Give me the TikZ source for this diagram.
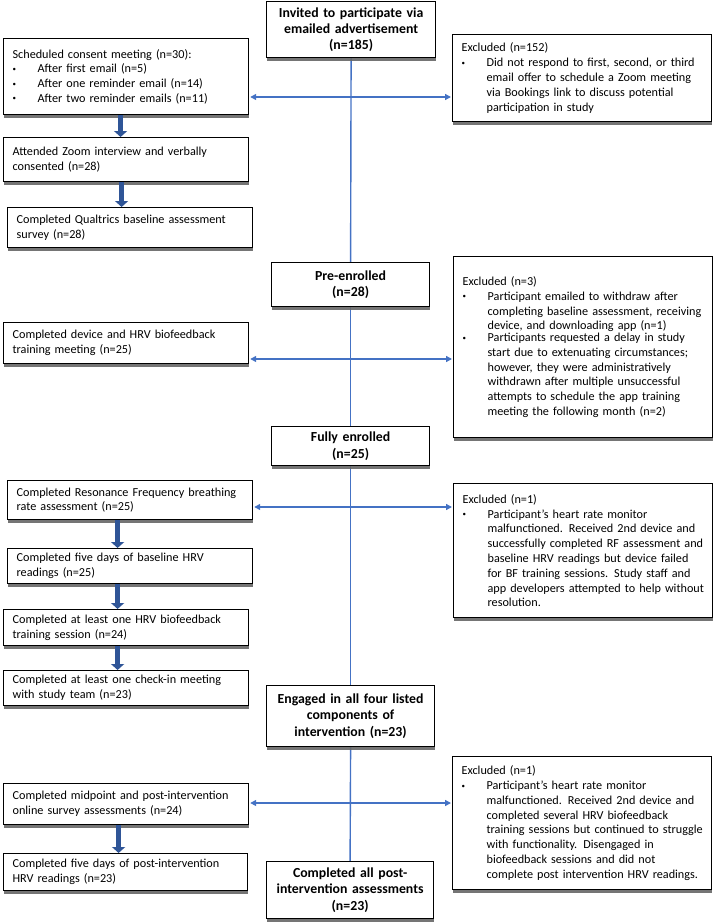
\documentclass[tikz,border=0pt]{standalone}
\usepackage{fontspec}
\setmainfont{Carlito}
\usepackage{xcolor}
\usepackage{tikz}
\usetikzlibrary{arrows.meta}
\usetikzlibrary{shadows, backgrounds}

\definecolor{flowblue}{HTML}{4472C4}
\definecolor{stepblue}{HTML}{2F5597}
\newcommand{\bul}[2][226pt]{\par\noindent\makebox[25pt][l]{\raisebox{1.5pt}{\fontsize{7}{7}\selectfont\textbullet}}\parbox[t]{#1}{\raggedright#2}}

\begin{document}
\begin{tikzpicture}[x=1pt, y=-1pt,
		box/.style={
			draw,
			line width=1.2pt,
			fill=white,
			anchor=north west,
			align=left,
			inner xsep=9pt,
			inner ysep=2pt,
			drop shadow={shadow xshift=0.8pt, shadow yshift=-3pt, fill=black!60, opacity=0.9},
			font=\fontsize{12.2}{14.8}\selectfont,
		},
		leftbox/.style={box, text width=227pt},
		exclbox/.style={box, text width=241pt},
		mainbox/.style={box, align=center, inner xsep=4pt, font=\bfseries\fontsize{13.8}{16.3}\selectfont},
		flow/.style={draw=flowblue, line width=1.4pt},
		flowarrow/.style={flow, shorten >=1pt, -{Triangle[width=6pt,length=6pt]}},
		steparrow/.style={draw=stepblue, line width=5pt, -{Triangle[width=13pt,length=6pt]}}]
	\useasboundingbox (0,0) rectangle (713,924);

	% main column
	\node[mainbox, text width=161pt, minimum height=56pt] (invited) at (266,1) {Invited to participate via\\emailed advertisement\\(n=185)};
	\node[mainbox, text width=150pt, minimum height=44pt] (preenrol) at (271,262) {Pre-enrolled\\(n=28)};
	\node[mainbox, text width=150pt, minimum height=39pt] (fullenrol) at (271,426) {Fully enrolled\\(n=25)};
	\node[mainbox, text width=160pt, minimum height=61pt] (engaged) at (266,685) {Engaged in all four listed\\components of\\intervention (n=23)};
	\node[mainbox, text width=159pt, minimum height=57pt] (postdone) at (266,861) {Completed all post-\\intervention assessments\\(n=23)};

	% left column
	\node[leftbox, minimum height=76pt] (sched) at (3,38) {Scheduled consent meeting (n=30):
		\bul[195pt]{After first email (n=5)}
		\bul[195pt]{After one reminder email (n=14)}
		\bul[195pt]{After two reminder emails (n=11)}};
	\node[leftbox, minimum height=44pt] (consent) at (3,137) {Attended Zoom interview and verbally\newline consented (n=28)};
	\node[leftbox, minimum height=40pt] (qualtrics) at (7,207) {Completed Qualtrics baseline assessment\newline survey (n=28)};
	\node[leftbox, minimum height=41pt] (device) at (3,322) {Completed device and HRV biofeedback\newline training meeting (n=25)};
	\node[leftbox, minimum height=39pt] (resfreq) at (7,480) {Completed Resonance Frequency breathing\newline rate assessment (n=25)};
	\node[leftbox, minimum height=35pt] (basehrv) at (7,548) {Completed five days of baseline HRV\newline readings (n=25)};
	\node[leftbox, minimum height=36pt] (training) at (3,609) {Completed at least one HRV biofeedback\newline training session (n=24)};
	\node[leftbox, minimum height=35pt] (checkin) at (3,670) {Completed at least one check-in meeting\newline with study team (n=23)};
	\node[leftbox, minimum height=41pt] (survey) at (3,783) {Completed midpoint and post-intervention\newline online survey assessments (n=24)};
	\node[leftbox, text width=226pt, minimum height=37pt] (posthrv) at (3,853) {Completed five days of post-intervention\newline HRV readings (n=23)};

	% right column
	\node[exclbox, minimum height=87pt] (excl1) at (452,34) {Excluded (n=152)
		\bul{Did not respond to first, second, or third\newline email offer to schedule a Zoom meeting\newline via Bookings link to discuss potential\newline participation in study}};
	\node[exclbox, minimum height=181pt] (excl2) at (453,256) {Excluded (n=3)
		\bul{Participant emailed to withdraw after\newline completing baseline assessment, receiving\newline device, and downloading app (n=1)}
		\bul{Participants requested a delay in study\newline start due to extenuating circumstances;\newline however, they were administratively\newline withdrawn after multiple unsuccessful\newline attempts to schedule the app training\newline meeting the following month (n=2)}\par\vspace{12pt}};
	\node[exclbox, minimum height=134pt] (excl3) at (453,483) {Excluded (n=1)
		\bul{Participant’s heart rate monitor\newline malfunctioned. Received 2nd device and\newline successfully completed RF assessment and\newline baseline HRV readings but device failed\newline for BF training sessions. Study staff and\newline app developers attempted to help without\newline resolution.}};
	\node[exclbox, minimum height=133pt] (excl4) at (452,756) {Excluded (n=1)
		\bul{Participant’s heart rate monitor\newline malfunctioned. Received 2nd device and\newline completed several HRV biofeedback\newline training sessions but continued to struggle\newline with functionality. Disengaged in\newline biofeedback sessions and did not\newline complete post intervention HRV readings.}};

	\coordinate (split1) at (350,97);
	\coordinate (split2) at (350,359);
	\coordinate (split3) at (350,507);
	\coordinate (split4) at (350,803);

	\begin{scope}[on background layer]
		\draw[flow] (invited.south) -- (preenrol.north);
		\draw[flow] (preenrol.south) -- (fullenrol.north);
		\draw[flow] (fullenrol.south) -- (engaged.north);
		\draw[flow] (engaged.south) -- (postdone.north);
	\end{scope}

	\draw[flowarrow] (split1) -- (split1 -| sched.east);
	\draw[flowarrow] (split1) -- (split1 -| excl1.west);
	\draw[flowarrow] (split2) -- (split2 -| device.east);
	\draw[flowarrow] (split2) -- (split2 -| excl2.west);
	\draw[flowarrow] (split3) -- (split3 -| resfreq.east);
	\draw[flowarrow] (split3) -- (split3 -| excl3.west);
	\draw[flowarrow] (split4) -- (split4 -| survey.east);
	\draw[flowarrow] (split4) -- (split4 -| excl4.west);

	\draw[steparrow] ([xshift=-5.5pt]sched.south) -- ([xshift=-5.5pt]sched.south |- consent.north);
	\draw[steparrow] ([xshift=-4.5pt]consent.south) -- ([xshift=-4.5pt]consent.south |- qualtrics.north);
	\draw[steparrow] ([xshift=-12.5pt]resfreq.south) -- ([xshift=-12.5pt]resfreq.south |- basehrv.north);
	\draw[steparrow] ([xshift=-12.5pt]basehrv.south) -- ([xshift=-12.5pt]basehrv.south |- training.north);
	\draw[steparrow] ([xshift=-8.5pt]training.south) -- ([xshift=-8.5pt]training.south |- checkin.north);
	\draw[steparrow] ([xshift=-7.5pt]survey.south) -- ([xshift=-7.5pt]survey.south |- posthrv.north);
\end{tikzpicture}
\end{document}
